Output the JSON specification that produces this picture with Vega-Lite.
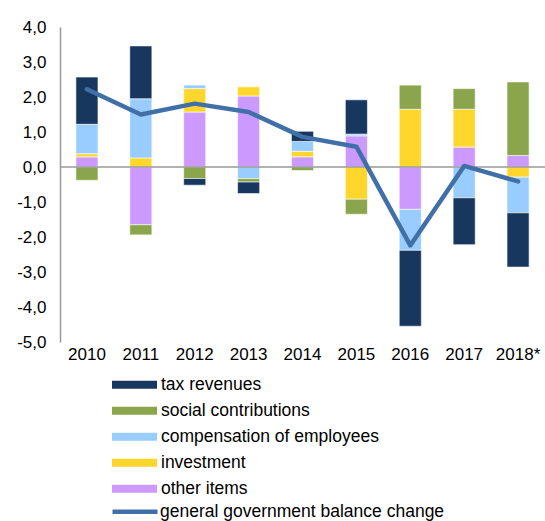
{
  "$schema": "https://vega.github.io/schema/vega-lite/v6.json",
  "width": 485,
  "height": 315,
  "autosize": {"type": "none"},
  "padding": {"left": 60, "top": 27, "right": 0, "bottom": 179},
  "config": {
    "view": {"stroke": null},
    "font": "Liberation Sans",
    "axis": {"labelFont": "Liberation Sans", "labelFontSize": 17, "labelColor": "#000", "labelOverlap": false},
    "axisY": {
      "title": null, "values": [-5, -4, -3, -2, -1, 0, 1, 2, 3, 4],
      "ticks": false, "grid": false, "domainColor": "#999", "domainWidth": 1.5,
      "labelPadding": 14, "labelOverlap": false, "labelSeparation": 0,
      "labelExpr": "replace((datum.value < 0 ? '-' : '') + format(abs(datum.value), '.1f'), '.', ',')"
    },
    "legend": {"labelFont": "Liberation Sans", "labelFontSize": 17.5, "labelColor": "#000", "padding": 0, "labelLimit": 500}
  },
  "datasets": {
    "bars": [
      {"year": "2010", "component": "other items", "value": 0.29},
      {"year": "2010", "component": "investment", "value": 0.09},
      {"year": "2010", "component": "compensation of employees", "value": 0.84},
      {"year": "2010", "component": "social contributions", "value": -0.38},
      {"year": "2010", "component": "tax revenues", "value": 1.35},
      {"year": "2011", "component": "other items", "value": -1.65},
      {"year": "2011", "component": "investment", "value": 0.26},
      {"year": "2011", "component": "compensation of employees", "value": 1.69},
      {"year": "2011", "component": "social contributions", "value": -0.29},
      {"year": "2011", "component": "tax revenues", "value": 1.51},
      {"year": "2012", "component": "other items", "value": 1.57},
      {"year": "2012", "component": "investment", "value": 0.67},
      {"year": "2012", "component": "compensation of employees", "value": 0.1},
      {"year": "2012", "component": "social contributions", "value": -0.33},
      {"year": "2012", "component": "tax revenues", "value": -0.19},
      {"year": "2013", "component": "other items", "value": 2.03},
      {"year": "2013", "component": "investment", "value": 0.26},
      {"year": "2013", "component": "compensation of employees", "value": -0.33},
      {"year": "2013", "component": "social contributions", "value": -0.1},
      {"year": "2013", "component": "tax revenues", "value": -0.33},
      {"year": "2014", "component": "other items", "value": 0.29},
      {"year": "2014", "component": "investment", "value": 0.16},
      {"year": "2014", "component": "compensation of employees", "value": 0.28},
      {"year": "2014", "component": "social contributions", "value": -0.1},
      {"year": "2014", "component": "tax revenues", "value": 0.29},
      {"year": "2015", "component": "other items", "value": 0.89},
      {"year": "2015", "component": "investment", "value": -0.92},
      {"year": "2015", "component": "compensation of employees", "value": 0.05},
      {"year": "2015", "component": "social contributions", "value": -0.43},
      {"year": "2015", "component": "tax revenues", "value": 0.98},
      {"year": "2016", "component": "other items", "value": -1.21},
      {"year": "2016", "component": "investment", "value": 1.65},
      {"year": "2016", "component": "compensation of employees", "value": -1.17},
      {"year": "2016", "component": "social contributions", "value": 0.69},
      {"year": "2016", "component": "tax revenues", "value": -2.17},
      {"year": "2017", "component": "other items", "value": 0.57},
      {"year": "2017", "component": "investment", "value": 1.08},
      {"year": "2017", "component": "compensation of employees", "value": -0.88},
      {"year": "2017", "component": "social contributions", "value": 0.59},
      {"year": "2017", "component": "tax revenues", "value": -1.34},
      {"year": "2018*", "component": "other items", "value": 0.33},
      {"year": "2018*", "component": "investment", "value": -0.29},
      {"year": "2018*", "component": "compensation of employees", "value": -1.02},
      {"year": "2018*", "component": "social contributions", "value": 2.1},
      {"year": "2018*", "component": "tax revenues", "value": -1.55}
    ],
    "line": [
      {"year": "2010", "value": 2.22},
      {"year": "2011", "value": 1.5},
      {"year": "2012", "value": 1.81},
      {"year": "2013", "value": 1.57},
      {"year": "2014", "value": 0.86},
      {"year": "2015", "value": 0.58},
      {"year": "2016", "value": -2.24},
      {"year": "2017", "value": 0.03},
      {"year": "2018*", "value": -0.41}
    ],
    "zero": [{"value": 0}]
  },
  "layer": [
    {
      "data": {"name": "bars"},
      "mark": {"type": "bar", "stroke": "white", "strokeWidth": 0.6},
      "encoding": {
        "x": {
          "field": "year", "type": "nominal", "sort": null,
          "scale": {"paddingInner": 0.59, "paddingOuter": 0.295},
          "axis": {"title": null, "domain": false, "ticks": false, "labelAngle": 0, "labelPadding": 4}
        },
        "y": {
          "field": "value", "type": "quantitative", "stack": "zero",
          "scale": {"domain": [-5, 4], "nice": false, "zero": false},
          "axis": {"title": null}
        },
        "color": {
          "field": "component", "type": "nominal",
          "scale": {
            "domain": ["tax revenues", "social contributions", "compensation of employees", "investment", "other items"],
            "range": ["#17375E", "#8BA54D", "#99CCFF", "#FFD62B", "#CC99FF"]
          },
          "legend": {
            "orient": "none", "legendX": 52, "legendY": 345, "title": null,
            "symbolType": "M-1,-0.178H1V0.178H-1Z", "symbolSize": 2025,
            "clipHeight": 25.5, "rowPadding": 0, "labelOffset": 4,
            "symbolStrokeWidth": 0, "symbolOpacity": 1
          }
        },
        "order": {"field": "year", "type": "nominal"}
      }
    },
    {
      "data": {"name": "zero"},
      "mark": {"type": "rule", "color": "#999", "strokeWidth": 1.5},
      "encoding": {"y": {"field": "value", "type": "quantitative", "axis": {"title": null}}}
    },
    {
      "data": {"name": "line"},
      "mark": {"type": "line", "strokeWidth": 4.5, "strokeCap": "round", "strokeJoin": "round"},
      "encoding": {
        "x": {"field": "year", "type": "nominal", "sort": null},
        "y": {"field": "value", "type": "quantitative", "axis": {"title": null}},
        "stroke": {
          "datum": "general government balance change",
          "scale": {"range": ["#4170A8"]},
          "legend": {
            "orient": "none", "legendX": 50, "legendY": 472, "title": null,
            "symbolType": "stroke", "symbolSize": 2025, "symbolStrokeWidth": 4.5,
            "clipHeight": 25.5, "labelOffset": 0
          }
        }
      }
    }
  ]
}
